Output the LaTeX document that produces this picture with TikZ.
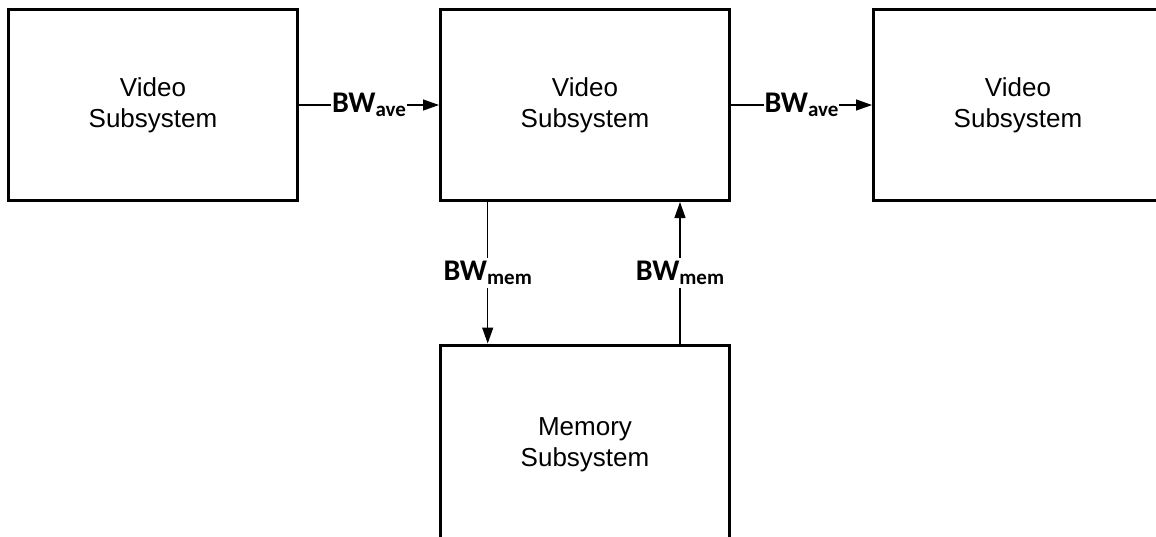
\documentclass[tikz,border=0pt]{standalone}
\usepackage{fontspec}
\setmainfont{Liberation Sans}
\newfontfamily\bwfont{Carlito}
\usetikzlibrary{arrows.meta,calc}
\newcommand{\bwlabel}[1]{{\bwfont\bfseries\fontsize{30}{30}\selectfont BW\raisebox{-4pt}{\fontsize{21}{21}\selectfont #1}}}
\tikzset{
  subsys/.style={draw, line width=3pt, minimum width=289pt, minimum height=191pt,
    align=center, font=\fontsize{26}{31}\selectfont, inner sep=0pt},
  conn/.style={line width=1.3pt, -{Triangle[length=16pt,width=11pt]}},
  bwlab/.style={fill=white, inner sep=1pt, inner ysep=3pt}
}
\begin{document}
\begin{tikzpicture}[x=1pt,y=1pt]
\useasboundingbox (0,0) rectangle (1156,-536);
\begin{scope}
\clip (0,0) rectangle (1156,-536);
\node[subsys] (left) at (153,-105) {Video\\Subsystem};
\node[subsys] (mid) at (585,-105) {Video\\Subsystem};
\node[subsys] (right) at (1018,-105) {Video\\Subsystem};
\node[subsys, minimum height=200pt] (mem) at (585,-445) {Memory\\Subsystem};
\end{scope}
\draw[conn] (left.east) -- node[bwlab] (l1) {\bwlabel{ave}} (mid.west);
\draw[conn] (mid.east) -- node[bwlab] (l2) {\bwlabel{ave}} (right.west);
\draw[conn] ($(mid.south west)!0.1668!(mid.south east)$) -- node[bwlab] (l3) {\bwlabel{mem}} ($(mem.north west)!0.1668!(mem.north east)$);
\draw[conn] ($(mem.north west)!0.8253!(mem.north east)$) -- node[bwlab] (l4) {\bwlabel{mem}} ($(mid.south west)!0.8253!(mid.south east)$);
\end{tikzpicture}
\end{document}
